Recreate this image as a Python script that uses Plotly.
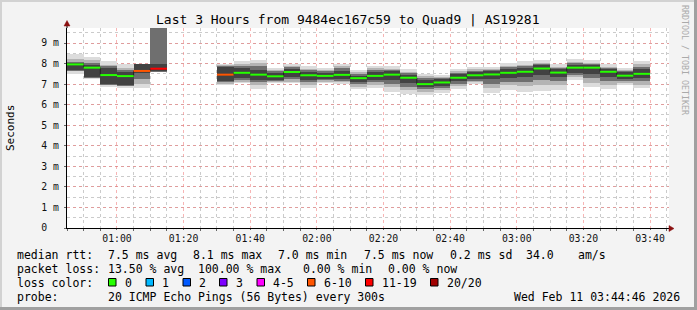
import plotly.graph_objects as go
import pandas as pd

# ---------------- data ----------------
DAY = "2026-02-11 "
times = ["00:45", "00:50", "00:55", "01:00", "01:05", "01:10", "01:15", "01:20", "01:25",
         "01:30", "01:35", "01:40", "01:45", "01:50", "01:55", "02:00", "02:05", "02:10",
         "02:15", "02:20", "02:25", "02:30", "02:35", "02:40", "02:45", "02:50", "02:55",
         "03:00", "03:05", "03:10", "03:15", "03:20", "03:25", "03:30", "03:35"]
median_ms = [7.96, 7.80, 7.44, 7.39, 7.64, 7.75, None, None, None,
             7.46, 7.55, 7.46, 7.38, 7.59, 7.43, 7.40, 7.45, 7.29,
             7.40, 7.46, 7.31, 7.00, 7.08, 7.31, 7.43, 7.47, 7.55,
             7.60, 7.76, 7.56, 7.80, 7.80, 7.60, 7.41, 7.50]
loss_count = [0, 0, 0, 0, 8, 14, 20, 20, 20,
              7, 0, 0, 0, 0, 0, 0, 0, 0,
              0, 0, 0, 0, 0, 0, 0, 0, 0,
              0, 0, 0, 0, 0, 0, 0, 0]
smoke_lo = [7.48, 7.23, 6.88, 6.83, 6.83, 7.60, None, None, None,
            6.96, 7.04, 6.76, 7.04, 7.04, 6.83, 7.04, 6.99, 6.75,
            6.80, 6.63, 6.52, 6.47, 6.58, 6.75, 6.99, 6.55, 6.71,
            6.63, 6.68, 6.71, 7.20, 6.87, 6.76, 6.96, 6.83]
smoke_hi = [8.45, 8.33, 8.12, 7.96, 7.96, 12.0, None, None, None,
            7.96, 8.12, 8.17, 7.77, 7.98, 7.88, 7.77, 7.98, 7.68,
            7.90, 7.90, 7.73, 7.48, 7.44, 7.73, 7.84, 7.84, 8.01,
            8.12, 8.17, 7.98, 8.22, 8.17, 7.96, 7.80, 8.12]
mid_lo = [7.62, 7.28, 6.95, 6.90, 7.00, 7.60, None, None, None,
          7.02, 7.10, 6.95, 7.10, 7.12, 6.95, 7.10, 7.08, 6.88,
          6.95, 6.85, 6.70, 6.62, 6.70, 6.90, 7.08, 6.80, 6.95,
          6.90, 6.95, 6.95, 7.35, 7.05, 6.95, 7.05, 6.98]
mid_hi = [8.20, 8.15, 7.95, 7.80, 7.96, 12.0, None, None, None,
          7.92, 8.00, 8.05, 7.70, 7.90, 7.75, 7.70, 7.88, 7.58,
          7.78, 7.75, 7.60, 7.40, 7.35, 7.62, 7.72, 7.72, 7.88,
          7.95, 8.05, 7.85, 8.10, 8.05, 7.85, 7.70, 7.98]
inner_lo = [7.65, 7.30, 6.98, 6.93, 7.25, 7.61, None, None, None,
            7.08, 7.20, 7.08, 7.16, 7.24, 7.08, 7.18, 7.16, 6.99,
            7.08, 7.02, 6.88, 6.74, 6.80, 7.02, 7.16, 7.02, 7.12,
            7.12, 7.20, 7.15, 7.45, 7.28, 7.15, 7.15, 7.14]
inner_hi = [8.10, 8.05, 7.86, 7.70, 7.96, 12.0, None, None, None,
            7.88, 7.90, 7.88, 7.62, 7.82, 7.68, 7.62, 7.76, 7.49,
            7.69, 7.68, 7.52, 7.30, 7.30, 7.56, 7.66, 7.68, 7.82,
            7.88, 8.00, 7.78, 8.02, 8.00, 7.80, 7.64, 7.85]
core_lo = [7.68, 7.35, 7.00, 6.96, 7.53, 7.62, None, None, None,
           7.15, 7.30, 7.20, 7.22, 7.35, 7.20, 7.25, 7.25, 7.10,
           7.20, 7.20, 7.05, 6.85, 6.90, 7.15, 7.25, 7.25, 7.30,
           7.35, 7.45, 7.35, 7.55, 7.50, 7.35, 7.25, 7.30]
core_hi = [8.02, 7.95, 7.77, 7.60, 7.96, 7.97, None, None, None,
           7.85, 7.80, 7.70, 7.55, 7.75, 7.60, 7.55, 7.65, 7.40,
           7.60, 7.62, 7.45, 7.20, 7.25, 7.50, 7.60, 7.65, 7.75,
           7.80, 7.95, 7.72, 7.95, 7.95, 7.75, 7.58, 7.72]

loss_levels = [0, 1, 2, 3, 5, 10, 19, 20]
loss_labels = ["0", "1", "2", "3", "4-5", "6-10", "11-19", "20/20"]
loss_colors = ["#26ff00", "#00b8ff", "#0059ff", "#7e00ff", "#ff00ff", "#ff5500", "#ff0000", "#a10000"]

title_text = "Last 3 Hours from 9484ec167c59 to Quad9 | AS19281"
stats_rtt = [("median rtt:", 16), ("7.5 ms avg", 107), ("8.1 ms max", 192), ("7.0 ms min", 277),
             ("7.5 ms now", 363), ("0.2 ms sd", 449), ("34.0", 525), ("am/s", 577)]
stats_loss = [("packet loss:", 16), ("13.50 % avg", 107), ("100.00 % max", 197),
              ("0.00 % min", 302), ("0.00 % now", 387)]
probe_text = "20 ICMP Echo Pings (56 Bytes) every 300s"
date_text = "Wed Feb 11 03:44:46 2026"
ytick_vals = [0, 1, 2, 3, 4, 5, 6, 7, 8, 9]
ytick_text = ["0\u00a0\u00a0", "1 m", "2 m", "3 m", "4 m", "5 m", "6 m", "7 m", "8 m", "9 m"]

# ---------------- geometry helpers ----------------
W, H = 697, 310
L, R, T, B = 67, 28, 28, 82
PW, PH = W - L - R, H - T - B
FONT = "DejaVu Sans Mono"


def px(xp):
    return (xp - L) / PW


def py(yp):
    return (H - B - yp) / PH


x_start = pd.to_datetime([DAY + t for t in times])
STEP_MS = 300000


def diff(a, b):
    return [None if (u is None or v is None) else v - u for u, v in zip(a, b)]


def loss_color(n):
    for lv, c in zip(loss_levels, loss_colors):
        if n <= lv:
            return c
    return loss_colors[-1]


fig = go.Figure()

for lo, hi, col in [(smoke_lo, smoke_hi, "#dcdcdc"), (mid_lo, mid_hi, "#b4b4b4"),
                    (inner_lo, inner_hi, "#6f6f6f"), (core_lo, core_hi, "#424242")]:
    fig.add_trace(go.Bar(x=x_start, base=lo, y=diff(lo, hi), width=STEP_MS, offset=0,
                         marker=dict(color=col, line=dict(width=0), opacity=1), hoverinfo="skip"))

# thin dark step connecting the medians
step_x, step_y = [], []
for t, m in zip(x_start, median_ms):
    if m is None:
        step_x.append(t)
        step_y.append(None)
        continue
    step_x += [t, t + pd.Timedelta(milliseconds=STEP_MS)]
    step_y += [m, m]
fig.add_trace(go.Scatter(x=step_x, y=step_y, mode="lines", line=dict(color="#222222", width=1),
                         hoverinfo="skip"))

# coloured median segments
for t, m, n in zip(x_start, median_ms, loss_count):
    if m is None:
        continue
    fig.add_trace(go.Scatter(x=[t, t + pd.Timedelta(milliseconds=STEP_MS)], y=[m, m], mode="lines",
                             line=dict(color=loss_color(n), width=2), hoverinfo="skip"))

shapes = []
# frame borders
shapes += [
    dict(type="rect", xref="paper", yref="paper", x0=px(0), x1=px(W), y0=py(0), y1=py(2),
         fillcolor="#d2d2d2", line=dict(width=0), layer="below"),
    dict(type="rect", xref="paper", yref="paper", x0=px(0), x1=px(2), y0=py(0), y1=py(H),
         fillcolor="#d2d2d2", line=dict(width=0), layer="below"),
    dict(type="rect", xref="paper", yref="paper", x0=px(0), x1=px(W), y0=py(307), y1=py(H),
         fillcolor="#a0a0a0", line=dict(width=0), layer="below"),
    dict(type="rect", xref="paper", yref="paper", x0=px(694), x1=px(W), y0=py(0), y1=py(H),
         fillcolor="#a0a0a0", line=dict(width=0), layer="below"),
]
# axis extension + arrows
shapes += [
    dict(type="line", xref="paper", yref="paper", x0=px(67), x1=px(67), y0=py(28), y1=py(23),
         line=dict(color="black", width=1)),
    dict(type="path", xref="paper", yref="paper",
         path=f"M {px(64)},{py(26)} L {px(70)},{py(26)} L {px(67)},{py(20.5)} Z",
         fillcolor="#8b1010", line=dict(color="#8b1010", width=0.5)),
    dict(type="path", xref="paper", yref="paper",
         path=f"M {px(669)},{py(225.5)} L {px(669)},{py(231.5)} L {px(674)},{py(228.5)} Z",
         fillcolor="#8b1010", line=dict(color="#8b1010", width=0.5)),
]

annotations = [
    dict(text=title_text, x=px(348), y=py(19.5), xref="paper", yref="paper", showarrow=False,
         xanchor="center", yanchor="middle", font=dict(family=FONT, size=13, color="#000")),
    dict(text="Seconds", x=px(10), y=py(128), xref="paper", yref="paper", showarrow=False,
         textangle=-90, xanchor="center", yanchor="middle",
         font=dict(family=FONT, size=11, color="#000")),
    dict(text="RRDTOOL / TOBI OETIKER", x=px(685), y=py(60), xref="paper", yref="paper",
         showarrow=False, textangle=90, xanchor="center", yanchor="middle",
         font=dict(family=FONT, size=8.3, color="#aaaaaa")),
]


def add_text(txt, xp, yp):
    annotations.append(dict(text=txt, x=px(xp - 1), y=py(yp), xref="paper", yref="paper",
                            showarrow=False, xanchor="left", yanchor="middle",
                            font=dict(family=FONT, size=11.5, color="#000")))


for txt, xp in stats_rtt:
    add_text(txt, xp, 254.5)
for txt, xp in stats_loss:
    add_text(txt, xp, 268.5)
add_text("loss color:", 16, 282.5)
box_x = [108.5, 146, 183, 219.5, 257, 307.5, 365.5, 430.5]
for bx, lab, col in zip(box_x, loss_labels, loss_colors):
    shapes.append(dict(type="rect", xref="paper", yref="paper", x0=px(bx), x1=px(bx + 7.5),
                       y0=py(278.5), y1=py(286), fillcolor=col, line=dict(color="black", width=1)))
    add_text(lab, bx + 15, 282.5)
add_text("probe:", 16, 296.5)
add_text(probe_text, 107, 296.5)
add_text(date_text, 513, 296.5)

grid_major = "rgba(240,120,120,0.55)"
grid_minor = "rgba(190,190,190,0.8)"

fig.update_layout(
    width=W, height=H, margin=dict(l=L, r=R, t=T, b=B, pad=0),
    paper_bgcolor="#f3f3f3", plot_bgcolor="#ffffff",
    showlegend=False, barmode="overlay", bargap=0,
    shapes=shapes, annotations=annotations,
    font=dict(family=FONT, size=10, color="#000"),
    xaxis=dict(type="date", range=[DAY + "00:45:00", DAY + "03:45:41"],
               tick0=DAY + "01:00", dtick=20 * 60 * 1000, tickformat="%H:%M",
               showgrid=True, gridcolor=grid_major, griddash="dot", gridwidth=1,
               minor=dict(dtick=5 * 60 * 1000, tick0=DAY + "00:45", showgrid=True,
                          gridcolor=grid_minor, griddash="dot", ticks="outside",
                          ticklen=2, tickcolor="#666"),
               ticks="outside", ticklen=1, tickcolor="#666",
               showline=True, linecolor="black", linewidth=1, zeroline=False,
               tickfont=dict(family=FONT, size=9.8, color="#111"), fixedrange=True),
    yaxis=dict(range=[0, 9.73], tickvals=ytick_vals, ticktext=ytick_text,
               showgrid=True, gridcolor=grid_major, griddash="dot", gridwidth=1,
               minor=dict(dtick=0.5, tick0=0, showgrid=True, gridcolor=grid_minor, griddash="dot"),
               ticks="outside", ticklen=2, tickcolor="#666",
               showline=True, linecolor="black", linewidth=1, zeroline=False,
               tickfont=dict(family=FONT, size=9.8, color="#111"), ticklabelstandoff=3,
               fixedrange=True),
)

fig.write_html("out.html")
